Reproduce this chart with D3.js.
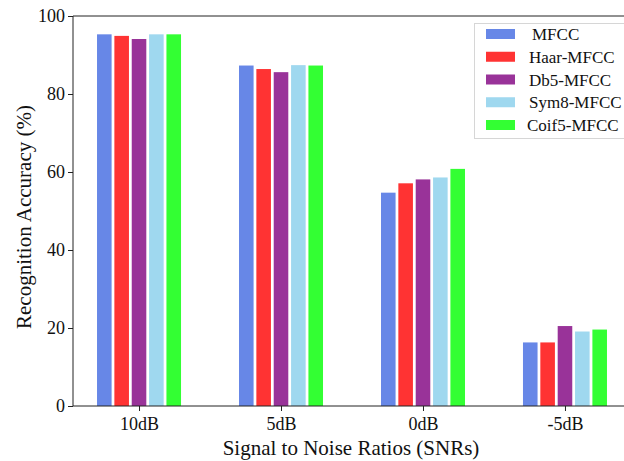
<!DOCTYPE html>
<html>
<head>
<meta charset="utf-8">
<script src="https://cdn.jsdelivr.net/npm/d3@7"></script>
<style>
  html, body { margin: 0; padding: 0; background: #fff; }
  svg { display: block; font-family: "Liberation Serif", "DejaVu Serif", serif; }
</style>
</head>
<body>
<div id="chart"></div>
<script>
// Data
const categories = ['10dB', '5dB', '0dB', '-5dB'];
const seriesNames = ['MFCC', 'Haar-MFCC', 'Db5-MFCC', 'Sym8-MFCC', 'Coif5-MFCC'];
const mfcc = [95.3, 87.3, 54.7, 16.3];
const haarMfcc = [94.9, 86.4, 57.1, 16.3];
const db5Mfcc = [94.1, 85.6, 58.1, 20.5];
const sym8Mfcc = [95.3, 87.4, 58.6, 19.1];
const coif5Mfcc = [95.3, 87.3, 60.8, 19.6];
const yTicks = [0, 20, 40, 60, 80, 100];

const seriesValues = [mfcc, haarMfcc, db5Mfcc, sym8Mfcc, coif5Mfcc];
const colors = ['#6787e7', '#ff3333', '#993399', '#9fd8ef', '#33ff33'];

const width = 624, height = 461;
const margin = {top: 16, right: -7, bottom: 55, left: 73};
const plotW = width - margin.left - margin.right;
const plotH = height - margin.top - margin.bottom;

const svg = d3.select('#chart').append('svg')
  .attr('width', width)
  .attr('height', height);

const g = svg.append('g')
  .attr('transform', `translate(${margin.left},${margin.top})`);

// Scales
const x0 = d3.scalePoint()
  .domain(categories)
  .range([0, plotW])
  .padding(0.465);

const x1 = d3.scaleBand()
  .domain(seriesNames)
  .range([-42, 42])
  .paddingInner(0.16);

const y = d3.scaleLinear()
  .domain([0, 100])
  .range([plotH, 0]);

// Bars
const groups = g.selectAll('g.series')
  .data(seriesNames)
  .enter().append('g')
  .attr('class', 'series')
  .attr('fill', (d, i) => colors[i]);

groups.selectAll('rect')
  .data((name, i) => categories.map((c, j) => ({cat: c, name: name, value: seriesValues[i][j]})))
  .enter().append('rect')
  .attr('x', d => x0(d.cat) + x1(d.name))
  .attr('y', d => y(d.value))
  .attr('width', x1.bandwidth())
  .attr('height', d => y(0) - y(d.value));

// Axes
const yAxis = g.append('g')
  .call(d3.axisLeft(y).tickValues(yTicks).tickSize(5).tickPadding(3));
const xAxis = g.append('g')
  .attr('transform', `translate(0,${plotH})`)
  .call(d3.axisBottom(x0).tickSize(5).tickPadding(4));

[yAxis, xAxis].forEach(ax => {
  ax.select('.domain').remove();
  ax.selectAll('line').attr('stroke', '#222').attr('stroke-width', 1);
  ax.selectAll('text')
    .attr('fill', '#111')
    .style('font-size', '18px')
    .style('font-family', '"Liberation Serif", serif');
});
xAxis.selectAll('text').attr('dy', '0.85em');

// Spines (left, bottom, top)
g.append('line').attr('x1', 0).attr('x2', 0).attr('y1', 0).attr('y2', plotH)
  .attr('stroke', '#222').attr('stroke-width', 1);
g.append('line').attr('x1', 0).attr('x2', plotW).attr('y1', plotH).attr('y2', plotH)
  .attr('stroke', '#222').attr('stroke-width', 1);
g.append('line').attr('x1', 0).attr('x2', plotW).attr('y1', 0).attr('y2', 0)
  .attr('stroke', '#222').attr('stroke-width', 1);

// Axis titles
svg.append('text')
  .attr('x', margin.left + x0(categories[0]) + (x0(categories[3]) - x0(categories[0])) / 2 - 1)
  .attr('y', 455)
  .attr('text-anchor', 'middle')
  .attr('fill', '#111')
  .style('font-size', '21px')
  .text('Signal to Noise Ratios (SNRs)');

svg.append('text')
  .attr('transform', 'translate(31,217) rotate(-90)')
  .attr('text-anchor', 'middle')
  .attr('fill', '#111')
  .style('font-size', '21px')
  .text('Recognition Accuracy (%)');

// Legend
const legend = svg.append('g').attr('transform', 'translate(474,23)');
legend.append('rect')
  .attr('x', 0.5).attr('y', 0.5)
  .attr('width', 170).attr('height', 115)
  .attr('fill', '#fff')
  .attr('stroke', '#d6d6d6')
  .attr('stroke-width', 1);

const rowY = d3.scaleLinear().domain([0, seriesNames.length - 1]).range([11, 102]);
const items = legend.selectAll('g.item')
  .data(seriesNames)
  .enter().append('g')
  .attr('class', 'item')
  .attr('transform', (d, i) => `translate(0,${rowY(i)})`);

items.append('rect')
  .attr('x', 12).attr('y', -5)
  .attr('width', 29).attr('height', 10)
  .attr('fill', (d, i) => colors[i]);

items.append('text')
  .attr('x', (d, i) => i === 0 ? 58 : (i === 4 ? 53 : 55))
  .attr('y', 6)
  .attr('fill', '#111')
  .style('font-size', '17px')
  .text(d => d);
</script>
</body>
</html>
